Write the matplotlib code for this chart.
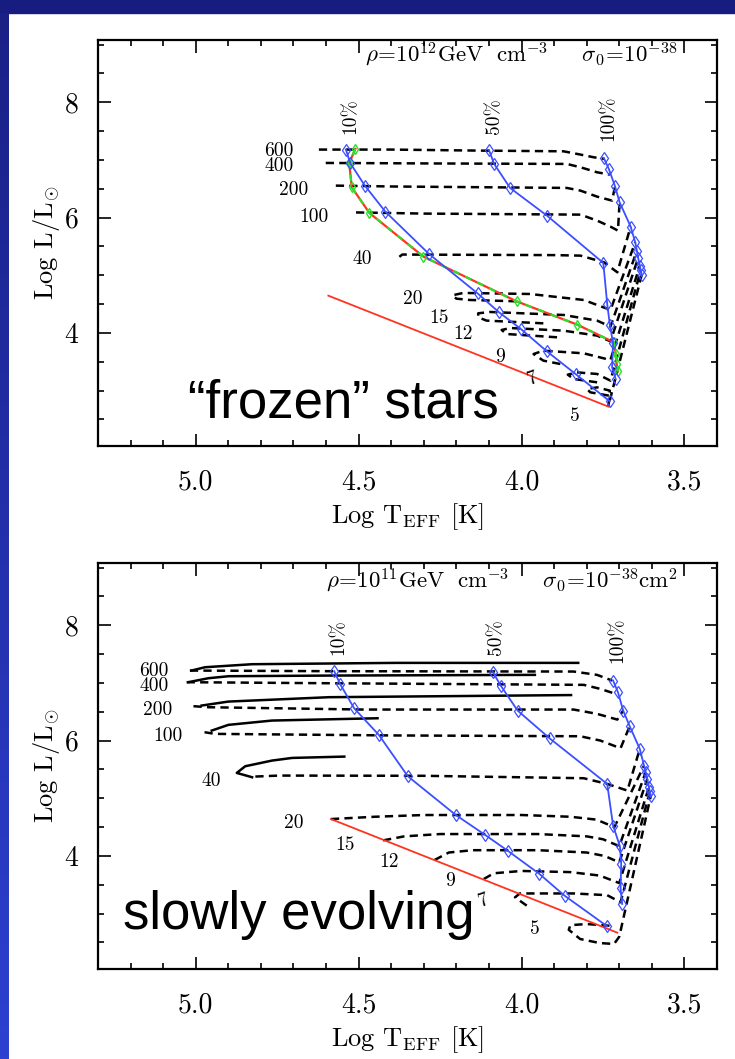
import numpy as np
import matplotlib.pyplot as plt
from matplotlib.patches import Rectangle
from matplotlib.colors import LinearSegmentedColormap
from matplotlib.ticker import MultipleLocator

plt.rcParams['font.family'] = 'cmr10'
plt.rcParams['mathtext.fontset'] = 'cm'
plt.rcParams['axes.formatter.use_mathtext'] = True

masses = [600, 400, 200, 100, 40, 20, 15, 12, 9, 7, 5]

# ---- top panel: "frozen" stars, rho = 1e12 GeV/cm^3 ----
frozen_x = {
    600: [4.622, 4.40, 4.128, 3.871, 3.819, 3.778, 3.745],
    400: [4.601, 4.30, 3.861, 3.819, 3.768, 3.729],
    200: [4.570, 4.40, 3.861, 3.819, 3.768, 3.722, 3.713],
    100: [4.508, 4.30, 3.90, 3.819, 3.768, 3.727, 3.704, 3.699],
    40: [4.375, 4.366, 4.30, 3.90, 3.819, 3.747, 3.706, 3.665],
    20: [4.015, 4.159, 4.20, 4.212, 4.179, 3.974, 3.809, 3.727, 3.651],
    15: [3.933, 4.107, 4.133, 4.133, 4.097, 3.871, 3.768, 3.727, 3.646],
    12: [3.891, 4.046, 4.061, 4.035, 3.871, 3.768, 3.727, 3.642],
    9: [3.881, 3.933, 3.963, 3.933, 3.809, 3.727, 3.637],
    7: [3.768, 3.840, 3.858, 3.830, 3.768, 3.727, 3.634],
    5: [3.732, 3.789, 3.799, 3.768, 3.729, 3.733, 3.631],
}
frozen_y = {
    600: [7.18, 7.18, 7.162, 7.15, 7.093, 7.046, 7.018],
    400: [6.948, 6.94, 6.931, 6.873, 6.786, 6.746],
    200: [6.555, 6.54, 6.515, 6.468, 6.364, 6.295, 6.543],
    100: [6.09, 6.07, 6.055, 6.052, 5.948, 5.844, 5.774, 6.266],
    40: [5.32, 5.36, 5.358, 5.35, 5.341, 5.225, 5.052, 5.844],
    20: [4.549, 4.572, 4.595, 4.653, 4.694, 4.676, 4.572, 4.399, 5.572],
    15: [4.167, 4.214, 4.271, 4.341, 4.364, 4.312, 4.214, 4.11, 5.428],
    12: [3.925, 3.982, 4.052, 4.086, 4.04, 3.954, 3.855, 5.30],
    9: [3.462, 3.52, 3.635, 3.693, 3.647, 3.531, 5.167],
    7: [3.144, 3.202, 3.277, 3.317, 3.289, 3.173, 5.09],
    5: [2.913, 2.971, 3.028, 3.057, 3.0, 2.74, 5.011],
}
frozen_p10_x = [4.539, 4.526, 4.481, 4.418, 4.284, 4.135, 4.069, 4.002, 3.922, 3.834, 3.729]
frozen_p10_y = [7.18, 6.948, 6.555, 6.104, 5.37, 4.687, 4.358, 4.069, 3.681, 3.288, 2.814]
frozen_p50_x = [4.100, 4.084, 4.035, 3.922, 3.749, 3.737, 3.729, 3.719, 3.722, 3.711]
frozen_p50_y = [7.174, 6.931, 6.514, 6.035, 5.214, 4.503, 4.144, 3.82, 3.404, 3.202]
frozen_p100_x = [3.747, 3.732, 3.713, 3.699, 3.665, 3.651, 3.646, 3.642, 3.637, 3.634, 3.631]
frozen_p100_y = [7.029, 6.844, 6.543, 6.266, 5.844, 5.572, 5.428, 5.30, 5.167, 5.09, 5.011]
frozen_alt_x = [4.51, 4.529, 4.521, 4.467, 4.301, 4.015, 3.829, 3.716, 3.711, 3.708, 3.704]
frozen_alt_y = [7.191, 6.948, 6.526, 6.081, 5.323, 4.548, 4.144, 3.837, 3.635, 3.461, 3.334]
frozen_zams_x = [4.593, 3.732]
frozen_zams_y = [4.647, 2.72]

# ---- bottom panel: slowly evolving, rho = 1e11 GeV/cm^3 ----
slow_x = {
    600: [5.018, 4.591, 3.84, 3.768, 3.722],
    400: [5.028, 4.591, 3.809, 3.758, 3.711],
    200: [5.007, 4.961, 4.488, 3.84, 3.768, 3.706, 3.688],
    100: [4.973, 4.941, 4.40, 3.82, 3.758, 3.696, 3.668],
    40: [4.817, 4.745, 4.30, 3.809, 3.737, 3.675, 3.637],
    20: [4.585, 4.45, 4.30, 4.0, 3.85, 3.77, 3.715, 3.624],
    15: [4.425, 4.36, 4.25, 3.95, 3.80, 3.75, 3.70, 3.619],
    12: [4.267, 4.223, 4.15, 3.95, 3.80, 3.745, 3.70, 3.614],
    9: [4.116, 4.085, 4.0, 3.85, 3.76, 3.70, 3.609],
    7: [3.984, 4.02, 4.005, 3.84, 3.737, 3.696, 3.606],
    5: [3.73, 3.80, 3.85, 3.855, 3.82, 3.76, 3.716, 3.70, 3.603],
}
slow_y = {
    600: [7.215, 7.204, 7.198, 7.14, 7.042],
    400: [7.013, 6.995, 6.967, 6.897, 6.81],
    200: [6.597, 6.579, 6.539, 6.539, 6.464, 6.365, 6.521],
    100: [6.146, 6.117, 6.09, 6.076, 6.001, 5.868, 6.25],
    40: [5.377, 5.394, 5.39, 5.348, 5.249, 5.134, 5.856],
    20: [4.64, 4.68, 4.71, 4.71, 4.68, 4.63, 4.50, 5.567],
    15: [4.27, 4.34, 4.38, 4.38, 4.34, 4.29, 4.17, 5.452],
    12: [3.93, 4.06, 4.10, 4.10, 4.06, 4.0, 3.89, 5.336],
    9: [3.60, 3.70, 3.74, 3.72, 3.66, 3.53, 5.192],
    7: [3.139, 3.283, 3.35, 3.35, 3.32, 3.197, 5.12],
    5: [2.79, 2.82, 2.80, 2.72, 2.56, 2.49, 2.474, 2.60, 5.047],
}
# solid tracks (first part of the evolution) for the massive stars
slow_solid_x = {
    600: [5.013, 4.971, 4.827, 4.385, 3.826],
    400: [5.023, 4.961, 4.899, 4.591, 3.959],
    200: [4.982, 4.90, 4.591, 3.848],
    100: [4.951, 4.90, 4.766, 4.442],
    40: [4.827, 4.874, 4.848, 4.766, 4.704, 4.544],
}
slow_solid_y = {
    600: [7.215, 7.273, 7.325, 7.348, 7.348],
    400: [7.013, 7.082, 7.117, 7.128, 7.14],
    200: [6.608, 6.677, 6.753, 6.79],
    100: [6.174, 6.273, 6.348, 6.388],
    40: [5.365, 5.44, 5.556, 5.654, 5.70, 5.723],
}
slow_p10_x = [4.575, 4.557, 4.514, 4.438, 4.349, 4.202, 4.113, 4.043, 3.945, 3.868, 3.737]
slow_p10_y = [7.204, 6.984, 6.562, 6.099, 5.382, 4.711, 4.37, 4.093, 3.688, 3.312, 2.78]
slow_p50_x = [4.089, 4.064, 4.012, 3.914, 3.737, 3.719, 3.698, 3.694, 3.696, 3.691]
slow_p50_y = [7.198, 6.955, 6.521, 6.041, 5.249, 4.527, 4.168, 3.862, 3.44, 3.168]
slow_p100_x = [3.719, 3.704, 3.688, 3.668, 3.637, 3.624, 3.619, 3.614, 3.609, 3.606, 3.603]
slow_p100_y = [7.042, 6.839, 6.521, 6.25, 5.856, 5.567, 5.452, 5.336, 5.192, 5.12, 5.047]
slow_zams_x = [4.585, 3.706]
slow_zams_y = [4.64, 2.67]

# label positions (data coords); 600 and 400 sit on top of each other as one block
top_pair_label = '600\n400'
low_masses = masses[2:]
frozen_pair_pos = (4.745, 7.02)
frozen_lab_x = [4.699, 4.637, 4.488, 4.334, 4.252, 4.181, 4.066, 3.964, 3.835]
frozen_lab_y = [6.48, 6.017, 5.284, 4.59, 4.253, 3.988, 3.577, 3.20, 2.566]
slow_pair_pos = (5.128, 7.07)
slow_lab_x = [5.116, 5.085, 4.951, 4.699, 4.542, 4.406, 4.218, 4.116, 3.959]
slow_lab_y = [6.538, 6.076, 5.306, 4.567, 4.196, 3.896, 3.572, 3.225, 2.734]

BLUE = '#3b4fff'
RED = '#ff3322'
GREEN = '#2be02b'
W, H = 735, 1059

fig = plt.figure(figsize=(W / 100, H / 100), dpi=100)
fig.patch.set_facecolor('white')

# slide background: navy band on top, blue gradient strip on the left
fig.add_artist(Rectangle((0, 1 - 13 / H), 1, 13 / H, transform=fig.transFigure,
                         color='#161c80', zorder=0))
strip = fig.add_axes([0, 0, 9 / W, 1 - 13 / H])
cmap = LinearSegmentedColormap.from_list('slide', ['#1a2086', '#2d40d0'])
strip.imshow(np.linspace(0, 1, 256)[:, None], aspect='auto', cmap=cmap)
strip.set_axis_off()


def style_axes(ax):
    ax.set_xlim(5.3, 3.4)
    ax.set_ylim(2.04, 9.08)
    ax.xaxis.set_minor_locator(MultipleLocator(0.1))
    ax.yaxis.set_minor_locator(MultipleLocator(0.5))
    ax.set_xticks([5.0, 4.5, 4.0, 3.5])
    ax.set_xticklabels(['5.0', '4.5', '4.0', '3.5'])
    ax.set_yticks([4, 6, 8])
    ax.set_yticklabels(['4', '6', '8'])
    ax.tick_params(which='both', direction='in', top=True, right=True,
                   width=1.2, color='black')
    ax.tick_params(which='major', length=9, labelsize=20)
    ax.tick_params(axis='x', which='major', pad=17)
    ax.tick_params(axis='y', which='major', pad=14)
    ax.tick_params(which='minor', length=4.5)
    for s in ax.spines.values():
        s.set_linewidth(1.6)
    ax.set_xlabel(r'Log T$_{\rm EFF}$ [K]', fontsize=19)
    ax.set_ylabel(r'Log L/L$_{\odot}$', fontsize=19)
    ax.xaxis.set_label_coords(0.5, -0.135)
    ax.yaxis.set_label_coords(-0.058, 0.5)


def draw_tracks(ax, tx, ty):
    for m in masses:
        ax.plot(tx[m], ty[m], color='black', lw=1.8, ls=(0, (3.3, 2.1)), zorder=2)


def draw_pct(ax, x, y):
    ax.plot(x, y, color=BLUE, lw=1.3, marker='d', ms=6, mfc='none',
            mec=BLUE, mew=0.9, zorder=4)


def draw_labels(ax, pair_pos, lx, ly, pct_pos):
    ax.text(pair_pos[0], pair_pos[1], top_pair_label, fontsize=14,
            ha='center', va='center', linespacing=0.8)
    for m, x, y in zip(low_masses, lx, ly):
        rot = 20 if m == 7 else 0
        ax.text(x, y, str(m), fontsize=14, ha='center', va='center', rotation=rot)
    for txt, (x, y) in zip(['10%', '50%', '100%'], pct_pos):
        ax.text(x, y, txt, fontsize=14, rotation=90, ha='center', va='center')


# ---------------- top panel ----------------
ax1 = fig.add_axes([98 / W, 1 - 446 / H, 619 / W, 406 / H])
style_axes(ax1)
draw_tracks(ax1, frozen_x, frozen_y)
ax1.plot(frozen_zams_x, frozen_zams_y, color=RED, lw=1.3, zorder=3)
ax1.plot(frozen_alt_x, frozen_alt_y, color=RED, lw=1.6, zorder=3)
ax1.plot(frozen_alt_x, frozen_alt_y, color=GREEN, lw=1.6, ls=(0, (3, 3)),
         marker='d', ms=5.5, mfc='none', mec=GREEN, mew=1.0, zorder=3)
draw_pct(ax1, frozen_p10_x, frozen_p10_y)
draw_pct(ax1, frozen_p50_x, frozen_p50_y)
draw_pct(ax1, frozen_p100_x, frozen_p100_y)
draw_labels(ax1, frozen_pair_pos, frozen_lab_x, frozen_lab_y,
            [(4.526, 7.76), (4.085, 7.76), (3.733, 7.72)])
ax1.text(0.431, 0.948,
         r'$\rho\!=\!10^{12}{\rm GeV\ \ cm}^{-3}\quad\ \ \sigma_0\!=\!10^{-38}$',
         transform=ax1.transAxes, fontsize=16.5, va='baseline')
ax1.text(0.145, 0.071, '\u201cfrozen\u201d stars', transform=ax1.transAxes,
         fontsize=38, family='Liberation Sans', va='baseline', zorder=6)

# ---------------- bottom panel ----------------
ax2 = fig.add_axes([98 / W, 1 - 969 / H, 619 / W, 406 / H])
style_axes(ax2)
draw_tracks(ax2, slow_x, slow_y)
for m in slow_solid_x:
    ax2.plot(slow_solid_x[m], slow_solid_y[m], color='black', lw=1.8, zorder=2)
ax2.plot(slow_zams_x, slow_zams_y, color=RED, lw=1.3, zorder=3)
draw_pct(ax2, slow_p10_x, slow_p10_y)
draw_pct(ax2, slow_p50_x, slow_p50_y)
draw_pct(ax2, slow_p100_x, slow_p100_y)
draw_labels(ax2, slow_pair_pos, slow_lab_x, slow_lab_y,
            [(4.563, 7.80), (4.078, 7.80), (3.706, 7.74)])
ax2.text(0.369, 0.941,
         r'$\rho\!=\!10^{11}{\rm GeV\ \ cm}^{-3}\quad\ \ \sigma_0\!=\!10^{-38}{\rm cm}^{2}$',
         transform=ax2.transAxes, fontsize=16.5, va='baseline')
ax2.text(0.04, 0.098, 'slowly evolving', transform=ax2.transAxes,
         fontsize=38, family='Liberation Sans', va='baseline', zorder=6)

fig.savefig('out.png', dpi=100)
